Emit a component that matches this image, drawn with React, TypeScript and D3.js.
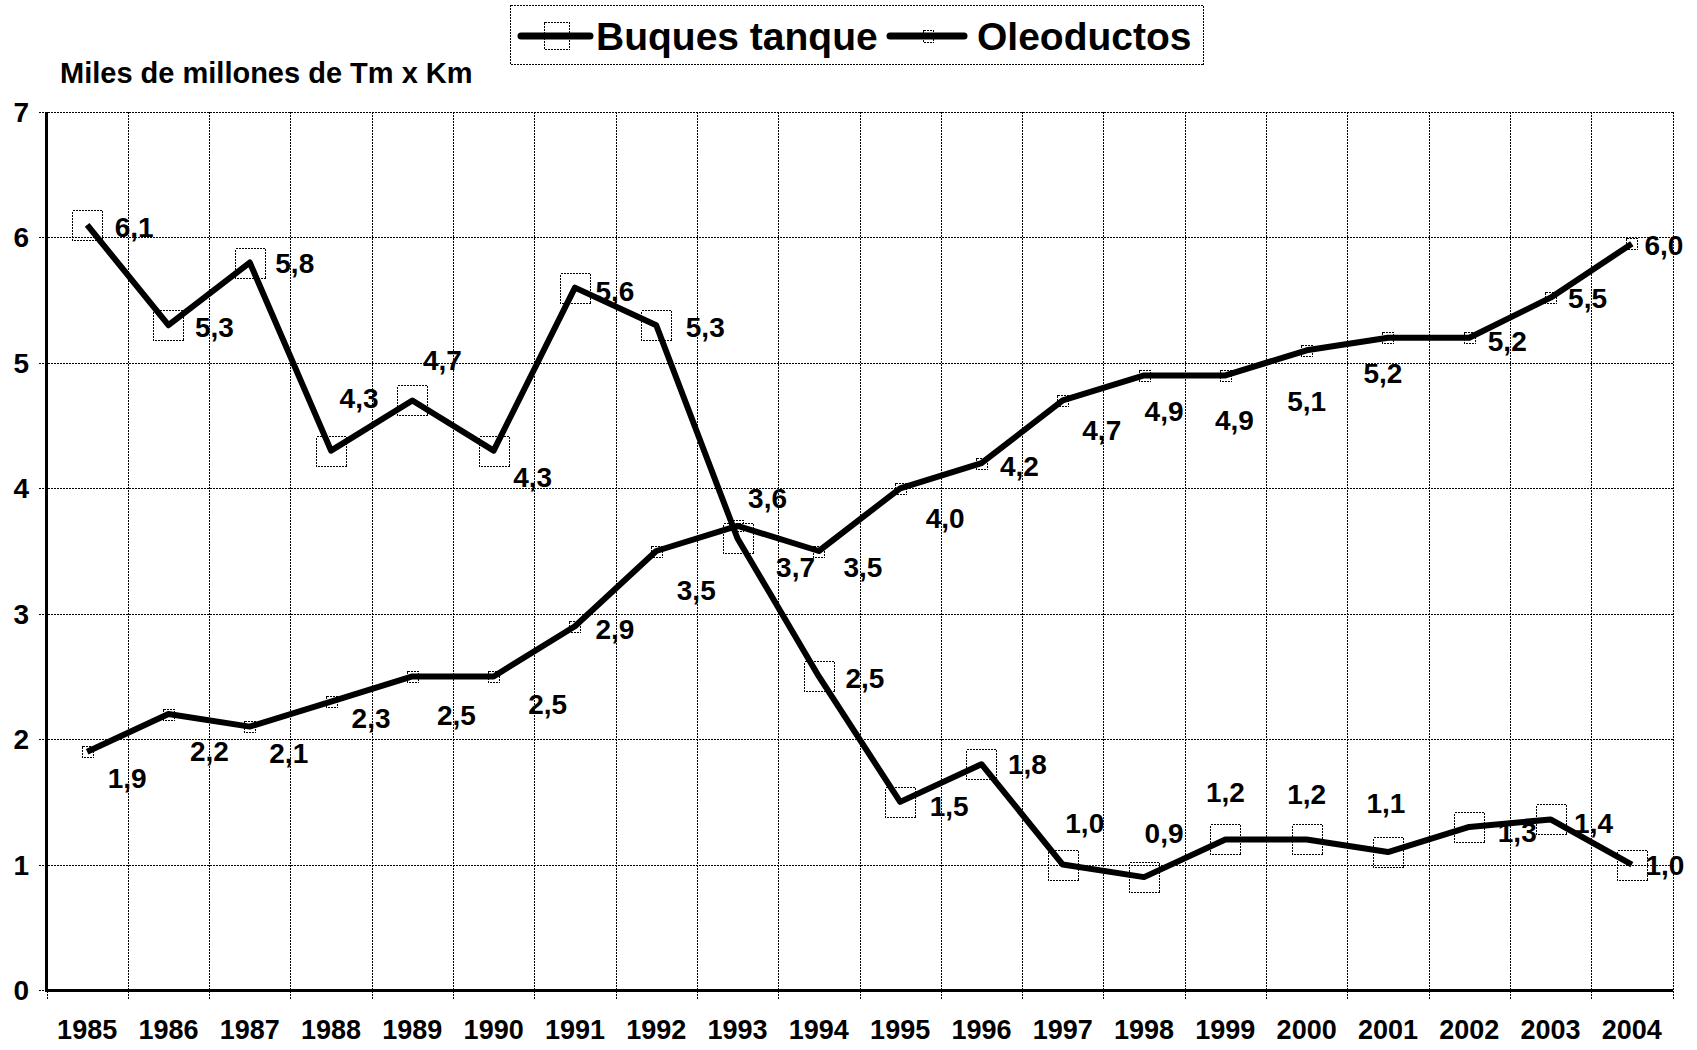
import * as d3 from "d3";

const years = ["1985", "1986", "1987", "1988", "1989", "1990", "1991", "1992", "1993", "1994",
  "1995", "1996", "1997", "1998", "1999", "2000", "2001", "2002", "2003", "2004"];
const buques = [6.1, 5.3, 5.8, 4.3, 4.7, 4.3, 5.6, 5.3, 3.6, 2.5, 1.5, 1.8, 1.0, 0.9, 1.2, 1.2, 1.1, 1.3, 1.36, 1.0];
const oleoductos = [1.9, 2.2, 2.1, 2.3, 2.5, 2.5, 2.9, 3.5, 3.7, 3.5, 4.0, 4.2, 4.7, 4.9, 4.9, 5.1, 5.2, 5.2, 5.52, 5.95];
const yTicks = [0, 1, 2, 3, 4, 5, 6, 7];

// label placement (offset of label centre from the point), as Excel left them
const buquesLabelPos = [
  [47, 2], [46, 2], [45, 0], [28, -53], [30, -40], [39, 26], [40, 3], [49, 2], [30, -40], [46, 2],
  [49, 4], [46, 0], [22, -42], [20, -44], [0, -47], [0, -45], [-2, -49], [48, 5], [43, 4], [33, 0],
];
const oleoLabelPos = [
  [40, 26], [41, 37], [39, 26], [40, 16], [44, 39], [54, 28], [40, 3], [40, 39], [58, 41], [44, 16],
  [45, 30], [38, 3], [39, 30], [20, 36], [9, 45], [0, 51], [-5, 35], [38, 3], [37, 0], [32, 1],
];

const W = 1697;
const H = 1050;
const left = 46.5;
const right = 1672.5;
const top = 112;
const bottom = 990;
const font = "'Liberation Sans', Arial, Helvetica, sans-serif";

const fmt = (v: number) => d3.format(".1f")(v).replace(".", ",");
const px = (v: number) => Math.round(v) + 0.5;

export default function App() {
  const x = d3.scaleBand<string>().domain(years).range([left, right]);
  const y = d3.scaleLinear().domain([0, 7]).range([bottom, top]);
  const cx = (yr: string) => (x(yr) as number) + x.bandwidth() / 2;

  const line = d3.line<number>()
    .x((_, i) => cx(years[i]))
    .y((d) => y(d));

  const bounds = years.map((yr) => x(yr) as number).concat([right]);

  return (
    <svg width={W} height={H} style={{ position: "absolute", left: 0, top: 0, display: "block", background: "#fff" }}
      fontFamily={font} fontWeight="bold">
      {/* horizontal grid */}
      <g shapeRendering="crispEdges" stroke="#000" strokeWidth={1} strokeDasharray="2,1">
        {yTicks.map((t) => (
          <line key={"h" + t} x1={left - 8} x2={right} y1={px(y(t))} y2={px(y(t))} />
        ))}
        {/* vertical grid + ticks */}
        {bounds.map((b, i) => (
          <line key={"v" + i} x1={px(b)} x2={px(b)} y1={top} y2={bottom + 9} />
        ))}
      </g>
      {/* axes */}
      <g shapeRendering="crispEdges">
        <line x1={left} x2={left} y1={top} y2={bottom + 1.5} stroke="#000" strokeWidth={3} />
        <line x1={left - 1.5} x2={right} y1={bottom} y2={bottom} stroke="#000" strokeWidth={3} />
      </g>

      {yTicks.map((t) => (
        <text key={"yl" + t} x={29} y={y(t) + 10} textAnchor="end" fontSize={28}>{t}</text>
      ))}
      {years.map((yr) => (
        <text key={"xl" + yr} x={cx(yr)} y={1039} textAnchor="middle" fontSize={27}>{yr}</text>
      ))}

      <text x={60} y={83} fontSize={29}>Miles de millones de Tm x Km</text>

      {/* series */}
      <path d={line(buques) as string} fill="none" stroke="#000" strokeWidth={6} strokeLinejoin="round" />
      {buques.map((v, i) => (
        <rect key={"bm" + i} x={px(cx(years[i]) - 15)} y={px(y(v) - 15)} width={30} height={30}
          fill="none" stroke="#000" strokeWidth={1} strokeDasharray="2,1" shapeRendering="crispEdges" />
      ))}
      <path d={line(oleoductos) as string} fill="none" stroke="#000" strokeWidth={6} strokeLinejoin="round" />
      {oleoductos.map((v, i) => (
        <rect key={"om" + i} x={px(cx(years[i]) - 5.5)} y={px(y(v) - 5.5)} width={11} height={11}
          fill="none" stroke="#000" strokeWidth={1} strokeDasharray="2,1" shapeRendering="crispEdges" />
      ))}

      {/* data labels */}
      {buques.map((v, i) => (
        <text key={"bl" + i} x={cx(years[i]) + buquesLabelPos[i][0]} y={y(v) + buquesLabelPos[i][1] + 10}
          textAnchor="middle" fontSize={28}>{fmt(v)}</text>
      ))}
      {oleoductos.map((v, i) => (
        <text key={"ol" + i} x={cx(years[i]) + oleoLabelPos[i][0]} y={y(v) + oleoLabelPos[i][1] + 10}
          textAnchor="middle" fontSize={28}>{fmt(v)}</text>
      ))}

      {/* legend */}
      <rect x={510.5} y={5.5} width={693} height={59} fill="#fff" stroke="#000" strokeWidth={1}
        strokeDasharray="2,1" shapeRendering="crispEdges" />
      <line x1={521} x2={590} y1={36} y2={36} stroke="#000" strokeWidth={7} strokeLinecap="round" />
      <rect x={544.5} y={22.5} width={25} height={27} fill="none" stroke="#000" strokeWidth={1}
        strokeDasharray="2,1" shapeRendering="crispEdges" />
      <text x={596} y={50} fontSize={39}>Buques tanque</text>
      <line x1={890} x2={964} y1={36} y2={36} stroke="#000" strokeWidth={7} strokeLinecap="round" />
      <rect x={923.5} y={30.5} width={10} height={12} fill="none" stroke="#000" strokeWidth={1}
        strokeDasharray="2,1" shapeRendering="crispEdges" />
      <text x={977} y={50} fontSize={39}>Oleoductos</text>
    </svg>
  );
}
